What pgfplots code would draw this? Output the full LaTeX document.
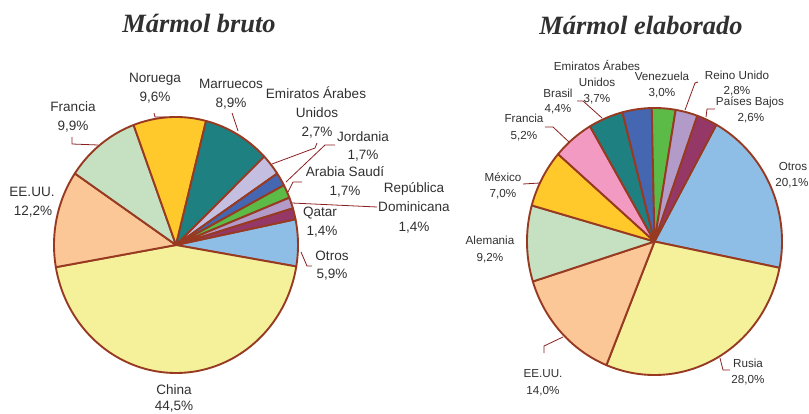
\documentclass[border=0pt]{standalone}
\usepackage{pgfplots}
\pgfplotsset{compat=1.18}
\usepackage{fontspec}
\setmainfont{Liberation Sans}
\newfontfamily\titlefont{Liberation Serif}
\definecolor{edge}{HTML}{983A22}
\definecolor{lead}{HTML}{8B1E1E}
\definecolor{txt}{HTML}{303030}
\definecolor{cBlue}{HTML}{8EBEE6}
\definecolor{cYellow}{HTML}{F5F19B}
\definecolor{cPeach}{HTML}{FCC797}
\definecolor{cGreen}{HTML}{C5E1C2}
\definecolor{cGold}{HTML}{FFC92C}
\definecolor{cTeal}{HTML}{1E8080}
\definecolor{cPaleLav}{HTML}{C4BFE0}
\definecolor{cRoyal}{HTML}{4566B0}
\definecolor{cLime}{HTML}{5CBB47}
\definecolor{cLav}{HTML}{B29AC9}
\definecolor{cMaroon}{HTML}{963867}
\definecolor{cPink}{HTML}{F39AC2}
% slice: value, colour (cumulative clockwise from \astart)
\newcommand\pieslice[2]{%
  \pgfmathsetmacro\aend{\astart-#1*360/\pietotal}%
  \edef\tmp{\noexpand\addplot[fill=#2,draw=edge,line width=1.9pt,line join=round,domain=\aend:\astart,samples=90]
    ({\cx+\rx*cos(x)},{\cy-\ry*sin(x)}) -- (axis cs:\cx,\cy) -- cycle;}%
  \tmp
  \global\let\astart\aend
}
\newcommand\lblA[3]{\node[font=\fontsize{13.6}{16}\selectfont,text=txt,text height=9.8bp,text depth=0pt,inner sep=0pt] at (axis cs:#1,#2) {#3};}
\newcommand\lblB[3]{\node[font=\fontsize{11.7}{14}\selectfont,text=txt,text height=8.4bp,text depth=0pt,inner sep=0pt] at (axis cs:#1,#2) {#3};}
\begin{document}
\begin{tikzpicture}
\begin{axis}[width=809bp,height=414bp,scale only axis,xmin=0,xmax=809,ymin=0,ymax=414,
  y dir=reverse,hide axis,clip=false]
% ---------- Mármol bruto ----------
\def\cx{176}\def\cy{245}\def\rx{122}\def\ry{128}
\def\pietotal{99.9}\gdef\astart{11.6}
\pieslice{5.9}{cBlue}     % Otros
\pieslice{44.5}{cYellow}  % China
\pieslice{12.2}{cPeach}   % EE.UU.
\pieslice{9.9}{cGreen}    % Francia
\pieslice{9.6}{cGold}     % Noruega
\pieslice{8.9}{cTeal}     % Marruecos
\pieslice{2.7}{cPaleLav}  % Emiratos
\pieslice{1.7}{cRoyal}    % Jordania
\pieslice{1.7}{cLime}     % Arabia Saudí
\pieslice{1.4}{cLav}      % República Dominicana
\pieslice{1.4}{cMaroon}   % Qatar
% ---------- Mármol elaborado ----------
\def\cx{654.5}\def\cy{241.5}\def\rx{127.5}\def\ry{133.5}
\def\pietotal{100}\gdef\astart{61}
\pieslice{20.1}{cBlue}    % Otros
\pieslice{28.0}{cYellow}  % Rusia
\pieslice{14.0}{cPeach}   % EE.UU.
\pieslice{9.2}{cGreen}    % Alemania
\pieslice{7.0}{cGold}     % México
\pieslice{5.2}{cPink}     % Francia
\pieslice{4.4}{cTeal}     % Brasil
\pieslice{3.7}{cRoyal}    % Emiratos
\pieslice{3.0}{cLime}     % Venezuela
\pieslice{2.8}{cLav}      % Reino Unido
\pieslice{2.6}{cMaroon}   % Países Bajos
% ---------- leaders ----------
\begin{scope}[lead,line width=0.8pt]
\draw (154,113) -- (155,117) -- (166,117);
\draw (232,113) -- (238,131);
\draw (72,137) -- (72,144) -- (98,145);
\draw (317,143) -- (315,148) -- (272,164);
\draw (335,145) -- (325,145) -- (286,182);
\draw (302,182) -- (293,182) -- (288,192);
\draw (377,207) -- (292,203);
\draw (312,266) -- (307,266) -- (301,252);
\draw (544,353) -- (544,346) -- (563,337);
\draw (730,370) -- (723,370) -- (720,358);
\draw (523,184) -- (540,183);
\draw (545,127) -- (553,127) -- (569,142);
\draw (577,101) -- (583,101) -- (602,118);
\draw (698,82) -- (695,83) -- (685,110);
\draw (715,109) -- (707,109) -- (706,117);
\end{scope}
% ---------- titles ----------
\node[font=\titlefont\bfseries\itshape\fontsize{26.5}{30}\selectfont,text=txt,text height=17.5bp,text depth=0pt,inner sep=0pt] at (axis cs:199,24) {Mármol bruto};
\node[font=\titlefont\bfseries\itshape\fontsize{26.5}{30}\selectfont,text=txt,text height=17.5bp,text depth=0pt,inner sep=0pt] at (axis cs:641,25.5) {Mármol elaborado};
% ---------- labels left ----------
\lblA{155}{78}{Noruega}\lblA{155}{97}{9,6\%}
\lblA{231}{84}{Marruecos}\lblA{231}{103}{8,9\%}
\lblA{316}{94}{Emiratos Árabes}\lblA{317}{113}{Unidos}\lblA{317}{132}{2,7\%}
\lblA{363}{137}{Jordania}\lblA{363}{155}{1,7\%}
\lblA{345}{172}{Arabia Saudí}\lblA{345}{191}{1,7\%}
\lblA{414}{188}{República}\lblA{414}{207}{Dominicana}\lblA{414}{227}{1,4\%}
\lblA{320}{212}{Qatar}\lblA{322}{231}{1,4\%}
\lblA{332}{256}{Otros}\lblA{332}{274}{5,9\%}
\lblA{174}{390}{China}\lblA{174}{406}{44,5\%}
\lblA{32}{192}{EE.UU.}\lblA{33}{211}{12,2\%}
\lblA{73}{107}{Francia}\lblA{73}{126}{9,9\%}
% ---------- labels right ----------
\lblB{597}{66}{Emiratos Árabes}\lblB{597}{82}{Unidos}\lblB{597}{98}{3,7\%}
\lblB{662}{76}{Venezuela}\lblB{662}{92}{3,0\%}
\lblB{737}{75}{Reino Unido}\lblB{737}{90}{2,8\%}
\lblB{750}{101}{Países Bajos}\lblB{751}{117}{2,6\%}
\lblB{558}{93}{Brasil}\lblB{558}{108}{4,4\%}
\lblB{524}{118}{Francia}\lblB{524}{135}{5,2\%}
\lblB{503}{177}{México}\lblB{503}{193}{7,0\%}
\lblB{490}{240}{Alemania}\lblB{490}{257}{9,2\%}
\lblB{793}{166}{Otros}\lblB{792}{182}{20,1\%}
\lblB{543}{373}{EE.UU.}\lblB{543}{390}{14,0\%}
\lblB{748}{363}{Rusia}\lblB{748}{379}{28,0\%}
\end{axis}
\path[use as bounding box] (current axis.south west) rectangle (current axis.north east);
\end{tikzpicture}
\end{document}
